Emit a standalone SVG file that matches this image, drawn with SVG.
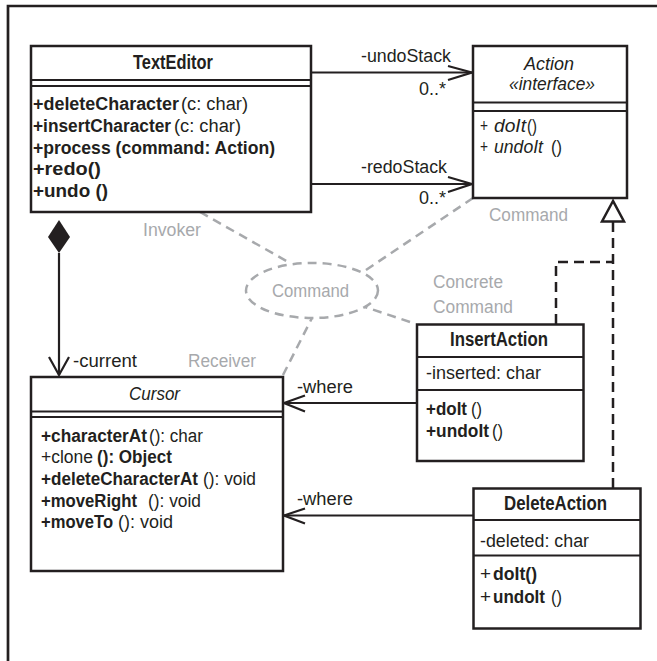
<svg xmlns="http://www.w3.org/2000/svg" width="657" height="661" viewBox="0 0 657 661">
  <style>
    text { font-family: "Liberation Sans", Arial, sans-serif; fill: #231f20; }
    .t { font-size: 19.5px; font-weight: bold; }
    .ti { font-size: 19px; font-style: italic; }
    .m { font-size: 18px; }
    .b { font-weight: bold; }
    .i { font-style: italic; }
    .g { font-size: 17.5px; fill: #a7a9ac; }
    .box { fill: #fff; stroke: #231f20; stroke-width: 2.5; }
    .sep { stroke: #231f20; stroke-width: 2.2; fill: none; }
    .ln { stroke: #231f20; stroke-width: 2.2; fill: none; }
    .dash { stroke: #231f20; stroke-width: 2.5; fill: none; stroke-dasharray: 10 6; }
    .gdash { stroke: #a7a9ac; stroke-width: 2.5; fill: none; stroke-dasharray: 9 6; }
  </style>

  <!-- frame -->
  <path d="M8,661 V6 H657" fill="none" stroke="#231f20" stroke-width="2.7"/>

  <!-- connectors -->
  <g id="connectors">
    <!-- collaboration roles -->
    <path class="gdash" d="M200,212 L290,263"/>
    <path class="gdash" d="M473,198 L363,272"/>
    <path class="gdash" d="M410,322 L365,307"/>
    <path class="gdash" d="M283,375 L312,318"/>
    <ellipse class="gdash" cx="312" cy="290.5" rx="66" ry="27.5"/>

    <!-- undoStack / redoStack -->
    <path class="ln" d="M311,72.5 H472"/>
    <path class="ln" d="M448,66 L472,72.5 L448,80"/>
    <path class="ln" d="M311,184 H472"/>
    <path class="ln" d="M448,177 L472,184 L448,192"/>

    <!-- composition TextEditor -> Cursor -->
    <polygon points="59,220 70,237 59,253 48,237" fill="#231f20"/>
    <path class="ln" d="M59,253 V375"/>
    <path class="ln" d="M49,357 L59,375 L69,357"/>

    <!-- where -->
    <path class="ln" d="M417,403 H284"/>
    <path class="ln" d="M305,395.5 L284,403 L305,411.5"/>
    <path class="ln" d="M473,515.5 H284"/>
    <path class="ln" d="M305,508.5 L284,515.5 L305,523.5"/>

    <!-- realization -->
    <path class="dash" d="M613,222 V488"/>
    <path class="dash" d="M556,324 V262 H613"/>
    <polygon points="613,201 602,221.5 624,221.5" fill="#fff" stroke="#231f20" stroke-width="2.5"/>

    <!-- labels -->
    <text class="m" x="361" y="62" textLength="90" lengthAdjust="spacingAndGlyphs">-undoStack</text>
    <text class="m" x="419" y="95" textLength="27" lengthAdjust="spacingAndGlyphs">0..*</text>
    <text class="m" x="361" y="173" textLength="86" lengthAdjust="spacingAndGlyphs">-redoStack</text>
    <text class="m" x="419" y="204" textLength="27" lengthAdjust="spacingAndGlyphs">0..*</text>
    <text class="m" x="73" y="367" textLength="64" lengthAdjust="spacingAndGlyphs">-current</text>
    <text class="m" x="297" y="393" textLength="56" lengthAdjust="spacingAndGlyphs">-where</text>
    <text class="m" x="297" y="505" textLength="56" lengthAdjust="spacingAndGlyphs">-where</text>

    <text class="g" x="489" y="221" textLength="79" lengthAdjust="spacingAndGlyphs">Command</text>
    <text class="g" x="143" y="236" textLength="58" lengthAdjust="spacingAndGlyphs">Invoker</text>
    <text class="g" x="188" y="367" textLength="68" lengthAdjust="spacingAndGlyphs">Receiver</text>
    <text class="g" x="272" y="297" textLength="77" lengthAdjust="spacingAndGlyphs">Command</text>
    <text class="g" x="433" y="288" textLength="70" lengthAdjust="spacingAndGlyphs">Concrete</text>
    <text class="g" x="433" y="313" textLength="80" lengthAdjust="spacingAndGlyphs">Command</text>
  </g>

  <!-- TextEditor -->
  <g id="TextEditor">
    <rect class="box" x="31" y="46" width="280" height="166"/>
    <path class="sep" d="M31,80 H311 M31,86 H311"/>
    <text class="t" x="133" y="69" textLength="80" lengthAdjust="spacingAndGlyphs">TextEditor</text>
    <text class="m b" x="33" y="110" textLength="146" lengthAdjust="spacingAndGlyphs">+deleteCharacter</text>
    <text class="m" x="181" y="110" textLength="67" lengthAdjust="spacingAndGlyphs">(c: char)</text>
    <text class="m b" x="33" y="132" textLength="138" lengthAdjust="spacingAndGlyphs">+insertCharacter</text>
    <text class="m" x="174" y="132" textLength="67" lengthAdjust="spacingAndGlyphs">(c: char)</text>
    <text class="m b" x="33" y="153.5" textLength="242" lengthAdjust="spacingAndGlyphs">+process (command: Action)</text>
    <text class="m b" x="33" y="175" textLength="68" lengthAdjust="spacingAndGlyphs">+redo()</text>
    <text class="m b" x="33" y="197" textLength="75" lengthAdjust="spacingAndGlyphs">+undo ()</text>
  </g>

  <!-- Action interface -->
  <g id="Action">
    <rect class="box" x="473" y="46" width="154" height="152"/>
    <path class="sep" d="M473,102.5 H627 M473,111 H627"/>
    <text class="ti" x="524" y="70" textLength="50" lengthAdjust="spacingAndGlyphs">Action</text>
    <text class="ti" x="509" y="90" textLength="86" lengthAdjust="spacingAndGlyphs">«interface»</text>
    <text class="m" x="480" y="132" textLength="8" lengthAdjust="spacingAndGlyphs">+</text>
    <text class="m i" x="494" y="132" textLength="32" lengthAdjust="spacingAndGlyphs">doIt</text>
    <text class="m" x="527" y="132" textLength="10" lengthAdjust="spacingAndGlyphs">()</text>
    <text class="m" x="480" y="153" textLength="8" lengthAdjust="spacingAndGlyphs">+</text>
    <text class="m i" x="494" y="153" textLength="49" lengthAdjust="spacingAndGlyphs">undoIt</text>
    <text class="m" x="551" y="153" textLength="11" lengthAdjust="spacingAndGlyphs">()</text>
  </g>

  <!-- Cursor -->
  <g id="Cursor">
    <rect class="box" x="31" y="377" width="252" height="194"/>
    <path class="sep" d="M31,411.5 H283 M31,417 H283"/>
    <text class="ti" x="129" y="400" textLength="51" lengthAdjust="spacingAndGlyphs">Cursor</text>
    <text class="m b" x="41" y="441.5" textLength="106" lengthAdjust="spacingAndGlyphs">+characterAt</text>
    <text class="m" x="149" y="441.5" textLength="54" lengthAdjust="spacingAndGlyphs">(): char</text>
    <text class="m" x="41" y="463" textLength="52" lengthAdjust="spacingAndGlyphs">+clone</text>
    <text class="m b" x="97" y="463" textLength="75" lengthAdjust="spacingAndGlyphs">(): Object</text>
    <text class="m b" x="41" y="485" textLength="157" lengthAdjust="spacingAndGlyphs">+deleteCharacterAt</text>
    <text class="m" x="203" y="485" textLength="53" lengthAdjust="spacingAndGlyphs">(): void</text>
    <text class="m b" x="41" y="506.5" textLength="96" lengthAdjust="spacingAndGlyphs">+moveRight</text>
    <text class="m" x="148" y="506.5" textLength="53" lengthAdjust="spacingAndGlyphs">(): void</text>
    <text class="m b" x="41" y="528" textLength="72" lengthAdjust="spacingAndGlyphs">+moveTo</text>
    <text class="m" x="118" y="528" textLength="55" lengthAdjust="spacingAndGlyphs">(): void</text>
  </g>

  <!-- InsertAction -->
  <g id="InsertAction">
    <rect class="box" x="417" y="324.5" width="166.5" height="136.5"/>
    <path class="sep" d="M417,357 H583.5 M417,390 H583.5"/>
    <text class="t" x="450" y="346" textLength="98" lengthAdjust="spacingAndGlyphs">InsertAction</text>
    <text class="m" x="426" y="379" textLength="115" lengthAdjust="spacingAndGlyphs">-inserted: char</text>
    <text class="m b" x="426" y="415" textLength="41" lengthAdjust="spacingAndGlyphs">+doIt</text>
    <text class="m" x="471" y="415" textLength="11" lengthAdjust="spacingAndGlyphs">()</text>
    <text class="m b" x="426" y="437" textLength="63" lengthAdjust="spacingAndGlyphs">+undoIt</text>
    <text class="m" x="492" y="437" textLength="11" lengthAdjust="spacingAndGlyphs">()</text>
  </g>

  <!-- DeleteAction -->
  <g id="DeleteAction">
    <rect class="box" x="473.5" y="488.5" width="167" height="140"/>
    <path class="sep" d="M473.5,520 H640.5 M473.5,555.5 H640.5"/>
    <text class="t" x="504" y="510" textLength="103" lengthAdjust="spacingAndGlyphs">DeleteAction</text>
    <text class="m" x="480" y="547" textLength="109" lengthAdjust="spacingAndGlyphs">-deleted: char</text>
    <text class="m" x="480" y="580" textLength="11" lengthAdjust="spacingAndGlyphs">+</text>
    <text class="m b" x="493" y="580" textLength="44" lengthAdjust="spacingAndGlyphs">doIt()</text>
    <text class="m" x="480" y="603" textLength="11" lengthAdjust="spacingAndGlyphs">+</text>
    <text class="m b" x="493" y="603" textLength="52" lengthAdjust="spacingAndGlyphs">undoIt</text>
    <text class="m" x="551" y="603" textLength="11" lengthAdjust="spacingAndGlyphs">()</text>
  </g>
</svg>
